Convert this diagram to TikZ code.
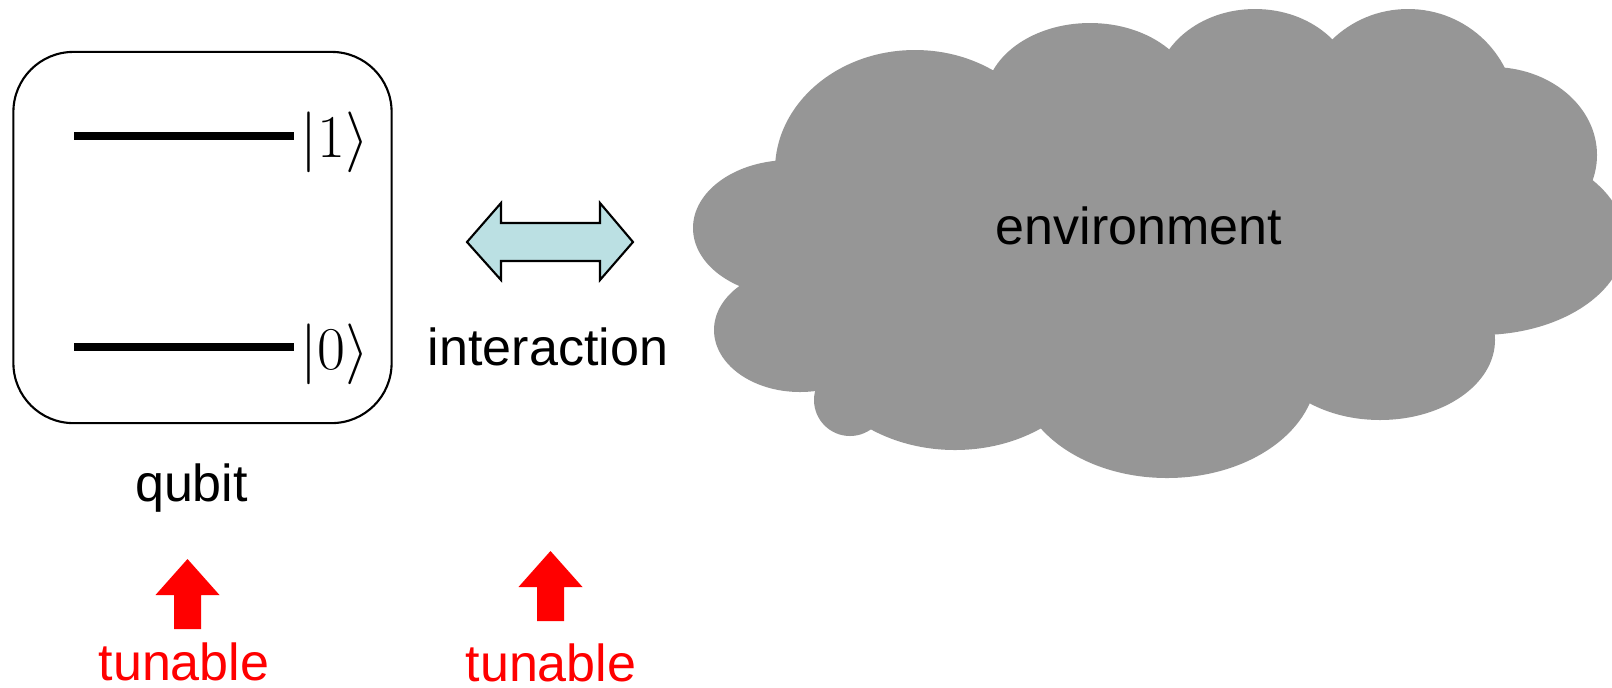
\documentclass[tikz,border=0pt]{standalone}
\usepackage[no-math]{fontspec}
\setmainfont{Liberation Sans}
\usepackage{amsmath}
\usetikzlibrary{positioning,calc}
\definecolor{envgray}{RGB}{150,150,150}
\definecolor{paleteal}{RGB}{187,224,227}
\definecolor{tunered}{RGB}{255,0,0}

\begin{document}
\begin{tikzpicture}[x=0.01cm,y=-0.01cm,
  lbl/.style={font=\fontsize{14.8}{17}\selectfont,inner sep=0pt,anchor=base},
  ket/.style={font=\fontsize{18.4}{21}\selectfont,inner sep=0pt,anchor=base west},
  level/.style={line width=2.3pt},
  bidir/.style={draw=black,line width=0.6pt,fill=paleteal,line join=miter}]
\useasboundingbox (0,0) rectangle (1612,687);
% Qubit
\node[draw,line width=0.6pt,rounded corners=0.6cm,minimum width=3.78cm,minimum height=3.71cm,inner sep=0pt] (qubitbox) at (202.5,237.5) {};
\coordinate (up0) at (74,136); \coordinate (up1) at (294,136);
\coordinate (dn0) at (74,347); \coordinate (dn1) at (294,347);
\draw[level] (up0) -- (up1);
\draw[level] (dn0) -- (dn1);
\node[ket] (ket1) at (300,157) {$|1\rangle$};
\node[ket] (ket0) at (300,369) {$|0\rangle$};
\node[lbl] (qubitlbl) at (191.5,501) {qubit};
% Interaction
\draw[bidir] (467,242) -- (501,203) -- (501,223) -- (600,223) -- (600,203) -- (633,242)
  -- (600,280) -- (600,261) -- (501,261) -- (501,280) -- cycle;
\node[lbl] (interlbl) at (548,365) {interaction};
% Environment cloud
\foreach \cx/\cy/\rx/\ry in {915/170/140/120, 1090/100/105/77, 1255/92/100/83, 1408/115/108/106,
    1492/155/105/88, 1480/240/145/95, 1380/340/115/80, 1167/370/150/108,
    955/330/150/120, 850/400/36/36, 800/330/86/62, 790/228/97/68}
  \fill[envgray] (\cx,\cy) ellipse [x radius=\rx,y radius=\ry];
\fill[envgray] (783,172) -- (993,72) -- (1173,52) -- (1330,42) -- (1505,78) -- (1578,180)
  -- (1488,325) -- (1304,398) -- (1046,424) -- (869,424) -- (818,388) -- (746,285) -- cycle;
\node[lbl] (envlbl) at (1139,244) {environment};
% Tunable
\foreach \cx/\ty in {187.5/559, 550.5/551}
  \fill[tunered] (\cx,\ty) -- ++(32,36) -- ++(-18.5,0) -- ++(0,34) -- ++(-27,0) -- ++(0,-34) -- ++(-18.5,0) -- cycle;
\node[lbl,text=tunered] (tuneq) at (184,680) {tunable};
\node[lbl,text=tunered] (tunei) at (551,681) {tunable};
\end{tikzpicture}
\end{document}
